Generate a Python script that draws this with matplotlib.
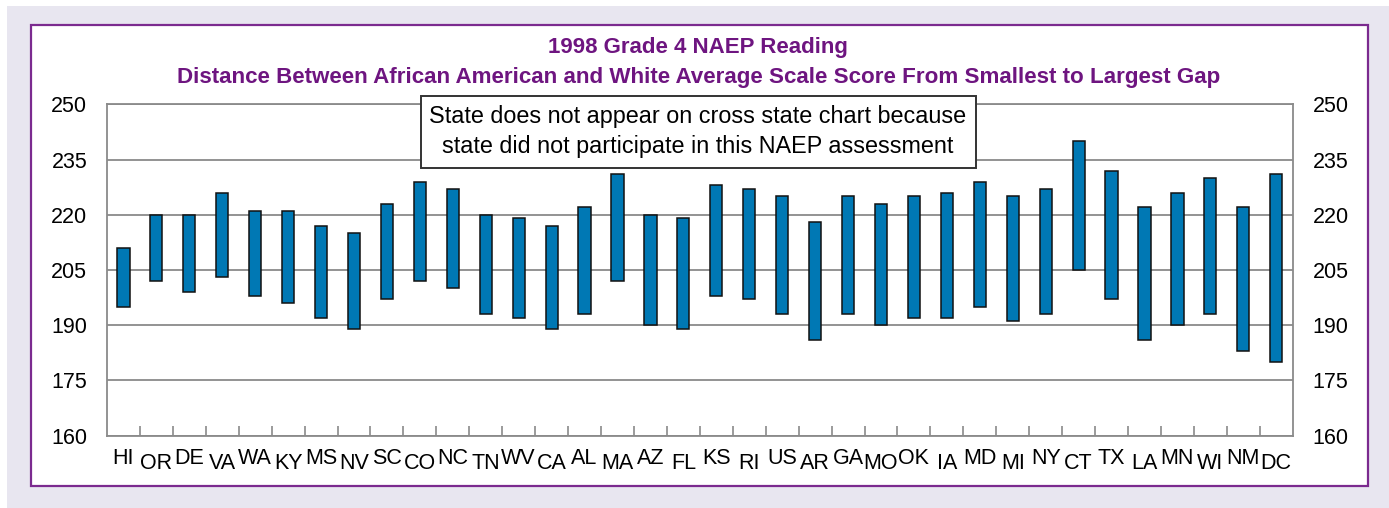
import numpy as np
import matplotlib
matplotlib.use("Agg")
import matplotlib.pyplot as plt
from matplotlib.patches import Rectangle
from matplotlib.transforms import ScaledTranslation

states = ["HI", "OR", "DE", "VA", "WA", "KY", "MS", "NV", "SC", "CO", "NC", "TN",
          "WV", "CA", "AL", "MA", "AZ", "FL", "KS", "RI", "US", "AR", "GA", "MO",
          "OK", "IA", "MD", "MI", "NY", "CT", "TX", "LA", "MN", "WI", "NM", "DC"]
white_scores = [211, 220, 220, 226, 221, 221, 217, 215, 223, 229, 227, 220,
                219, 217, 222, 231, 220, 219, 228, 227, 225, 218, 225, 223,
                225, 226, 229, 225, 227, 240, 232, 222, 226, 230, 222, 231]
black_scores = [195, 202, 199, 203, 198, 196, 192, 189, 197, 202, 200, 193,
                192, 189, 193, 202, 190, 189, 198, 197, 193, 186, 193, 190,
                192, 192, 195, 191, 193, 205, 197, 186, 190, 193, 183, 180]
y_ticks = [160, 175, 190, 205, 220, 235, 250]

plt.rcParams['font.family'] = ['Liberation Sans', 'DejaVu Sans']

W, H = 1389, 508
fig = plt.figure(figsize=(W / 100, H / 100), dpi=100)
fig.patch.set_facecolor('white')

# lavender background and white framed panel
fig.patches.append(Rectangle((7 / W, 0), 1 - 7 / W, 1 - 6 / H, transform=fig.transFigure,
                             facecolor='#e8e6f0', edgecolor='none', zorder=-3))
fig.patches.append(Rectangle((31 / W, (H - 486) / H), (1368 - 31) / W, (486 - 25) / H,
                             transform=fig.transFigure, facecolor='white',
                             edgecolor='#7b2a8f', linewidth=1.6, zorder=-2))

ax = fig.add_axes([107 / W, (H - 435.5) / H, (1292.7 - 107) / W, (435.5 - 104.3) / H])
ax.set_facecolor('white')

x = np.arange(len(states))
low = np.array(black_scores)
high = np.array(white_scores)
ax.bar(x, high - low, bottom=low, width=0.37, color='#0078b4',
       edgecolor='#111111', linewidth=1.1, zorder=3)

ax.set_xlim(-0.5, len(states) - 0.5)
ax.set_ylim(160, 250)
ax.set_yticks(y_ticks)
ax.yaxis.grid(True, color='#8a8a8a', linewidth=1.3, zorder=0)
ax.set_axisbelow(True)
ax.tick_params(axis='y', length=0, pad=14.2, labelsize=15.5, labelright=True, right=False)
for s in ax.spines.values():
    s.set_color('#8a8a8a')
    s.set_linewidth(1.3)

ax.set_xticks(x)
ax.set_xticklabels(states, fontsize=15.5)
ax.tick_params(axis='x', which='major', length=0, pad=9)
ax.set_xticks(np.arange(0.5, len(states) - 0.5, 1.0), minor=True)
ax.tick_params(axis='x', which='minor', direction='in', length=7, color='#8a8a8a', width=1.2)
for i, lab in enumerate(ax.get_xticklabels()):
    if i % 2 == 1:
        lab.set_transform(lab.get_transform() + ScaledTranslation(0, -5 / 100, fig.dpi_scale_trans))

# titles
fig.text(698 / W, 1 - 47 / H, "1998 Grade 4 NAEP Reading", ha='center', va='center',
         fontsize=16, fontweight='bold', color='#6e1580')
fig.text(699 / W, 1 - 77 / H,
         "Distance Between African American and White Average Scale Score From Smallest to Largest Gap",
         ha='center', va='center', fontsize=16.1, fontweight='bold', color='#6e1580')

# note box
fig.patches.append(Rectangle((420.7 / W, (H - 168) / H), (976 - 420.7) / W, (168 - 96) / H,
                             transform=fig.transFigure, facecolor='white',
                             edgecolor='#333333', linewidth=1.4, zorder=5))
fig.text(698 / W, 1 - 116 / H, "State does not appear on cross state chart because",
         ha='center', va='center', fontsize=16.8, color='black', zorder=6)
fig.text(698 / W, 1 - 147 / H, "state did not participate in this NAEP assessment",
         ha='center', va='center', fontsize=16.8, color='black', zorder=6)

fig.savefig("out.png", dpi=100, facecolor='white')
